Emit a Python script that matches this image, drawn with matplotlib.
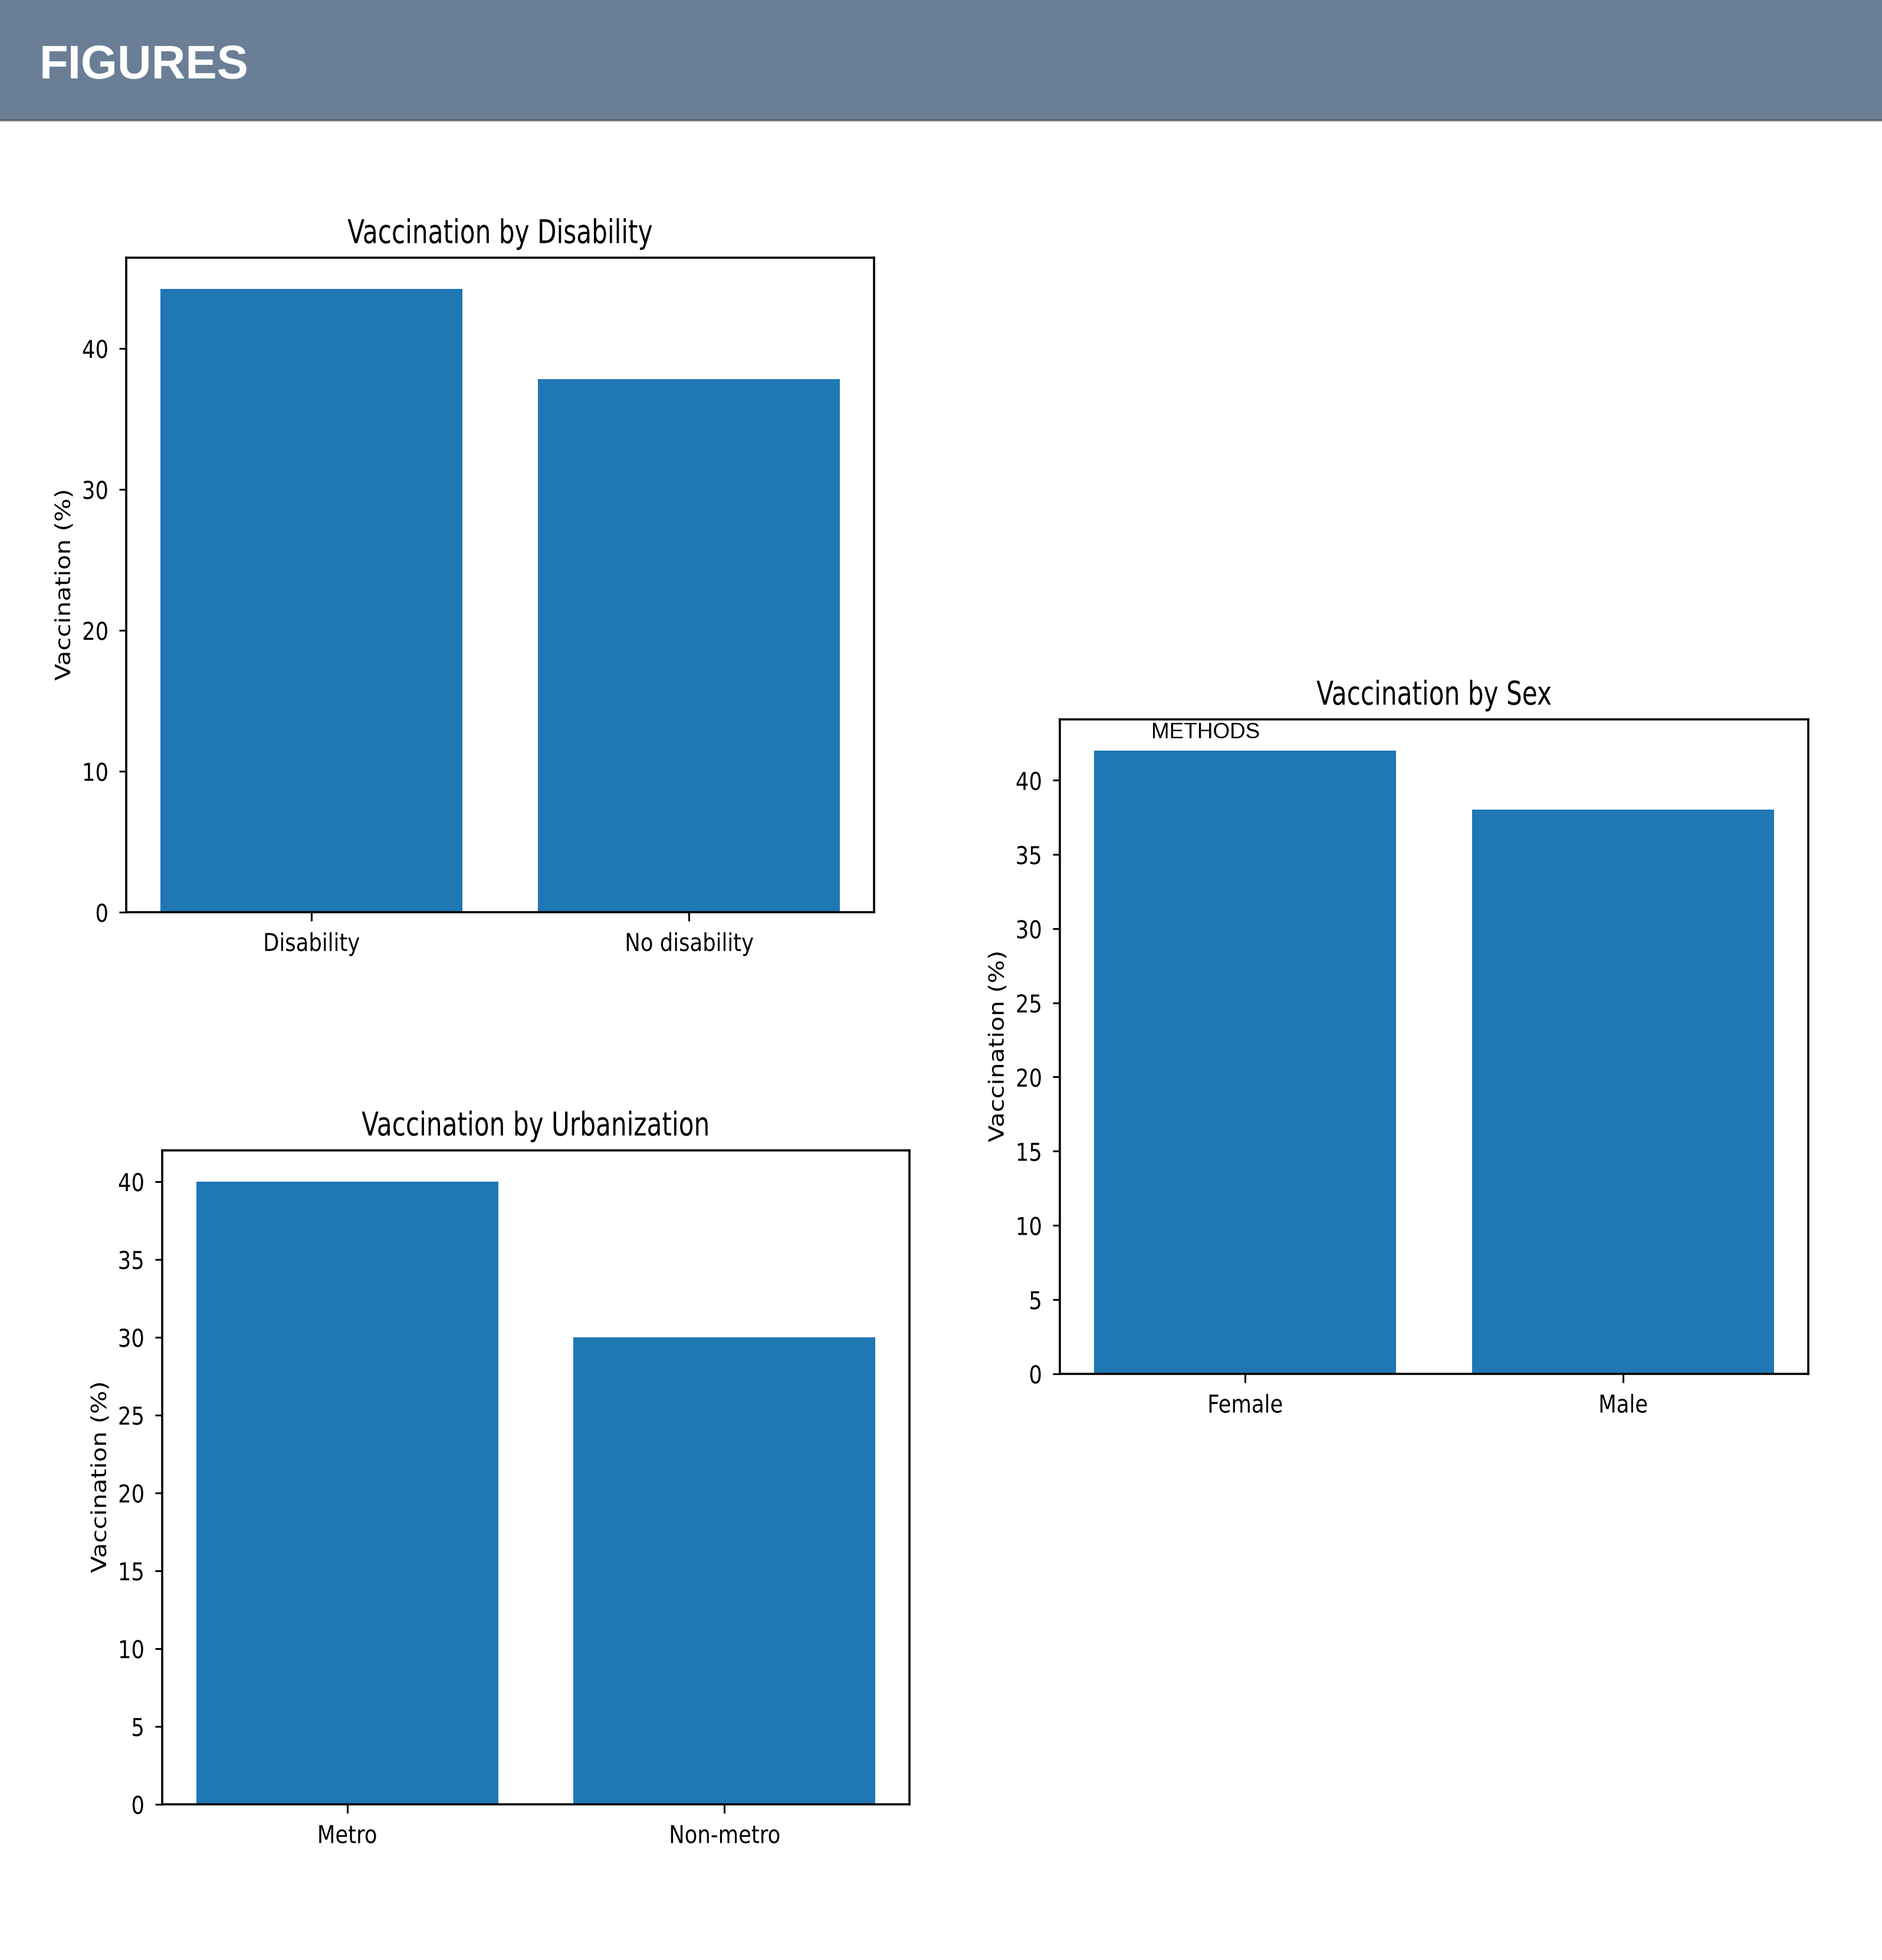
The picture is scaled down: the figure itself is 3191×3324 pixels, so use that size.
import matplotlib
matplotlib.use("Agg")
import matplotlib.pyplot as plt
from matplotlib.patches import Rectangle
from matplotlib.patheffects import AbstractPathEffect
from matplotlib.transforms import Affine2D

# ---- data -------------------------------------------------------------
disability_labels = ["Disability", "No disability"]
disability_values = [44.2, 37.8]

sex_labels = ["Female", "Male"]
sex_values = [42.0, 38.0]

urban_labels = ["Metro", "Non-metro"]
urban_values = [40.0, 30.0]

disability_ticks = [0, 10, 20, 30, 40]
five_step_ticks = [0, 5, 10, 15, 20, 25, 30, 35, 40]

# ---- page geometry (pixels) -------------------------------------------
W, H = 3191, 3324
DPI = 100
BAR_COLOR = "#1f77b4"
HEADER_COLOR = "#6a7f96"


class HorizontalSqueeze(AbstractPathEffect):
    """Draw text narrower than its font, keeping one edge (or the centre) fixed."""

    def __init__(self, factor, anchor="center"):
        super().__init__()
        self.factor = factor
        self.anchor = anchor

    def draw_path(self, renderer, gc, tpath, affine, rgbFace=None):
        ext = tpath.get_extents(affine)
        if self.anchor == "left":
            x0 = ext.x0
        elif self.anchor == "right":
            x0 = ext.x1
        else:
            x0 = 0.5 * (ext.x0 + ext.x1)
        squeeze = Affine2D().translate(-x0, 0).scale(self.factor, 1.0).translate(x0, 0)
        renderer.draw_path(gc, tpath, affine + squeeze, rgbFace)


def axes_rect(left, top, right, bottom):
    return [left / W, 1 - bottom / H, (right - left) / W, (bottom - top) / H]


fig = plt.figure(figsize=(W / DPI, H / DPI), dpi=DPI)
fig.patch.set_facecolor("white")

# header band
fig.add_artist(Rectangle((0, 1 - 202 / H), 1, 202 / H, transform=fig.transFigure,
                         facecolor=HEADER_COLOR, edgecolor="none", zorder=0))
fig.add_artist(Rectangle((0, 1 - 205 / H), 1, 3 / H, transform=fig.transFigure,
                         facecolor="#58626c", edgecolor="none", zorder=0))
fig.add_artist(Rectangle((0, 1 - 207 / H), 1, 2 / H, transform=fig.transFigure,
                         facecolor="#cfcfcf", edgecolor="none", zorder=0))
fig.text(67 / W, 1 - 133 / H, "FIGURES", color="white", fontsize=57.5,
         fontweight="bold", family=["Liberation Sans", "DejaVu Sans"],
         ha="left", va="baseline")


def bar_panel(rect, labels, values, ticks, title):
    ax = fig.add_axes(rect)
    ax.bar(labels, values, width=0.8, color=BAR_COLOR)
    ax.set_yticks(ticks)
    ax.set_title(title, fontsize=40, pad=18)
    ax.set_ylabel("Vaccination (%)", fontsize=30, va="center")
    ax.yaxis.set_label_coords(-0.083, 0.5)
    for side in ("top", "bottom", "left", "right"):
        ax.spines[side].set_linewidth(2.6)
    ax.tick_params(axis="x", labelsize=30, length=10.8, width=2.2, pad=13)
    ax.tick_params(axis="y", labelsize=30, length=8.3, width=2.2, pad=13)

    ax.title.set_path_effects([HorizontalSqueeze(0.76)])
    ax.yaxis.label.set_path_effects([HorizontalSqueeze(0.85)])
    for t in ax.xaxis.get_major_ticks():
        t.label1.set_path_effects([HorizontalSqueeze(0.85)])
    for t in ax.yaxis.get_major_ticks():
        t.label1.set_path_effects([HorizontalSqueeze(0.85, anchor="right")])
    return ax


bar_panel(axes_rect(214, 437.3, 1482, 1546.7), disability_labels, disability_values,
          disability_ticks, "Vaccination by Disability")
bar_panel(axes_rect(1797, 1220, 3066, 2329.5), sex_labels, sex_values,
          five_step_ticks, "Vaccination by Sex")
bar_panel(axes_rect(275, 1950.7, 1542, 3059.6), urban_labels, urban_values,
          five_step_ticks, "Vaccination by Urbanization")

fig.text(1952 / W, 1 - 1252 / H, "METHODS", color="black", fontsize=26.6,
         family=["Liberation Sans", "DejaVu Sans"], ha="left", va="baseline", zorder=10)

fig.savefig("out.png", dpi=DPI, facecolor="white")
